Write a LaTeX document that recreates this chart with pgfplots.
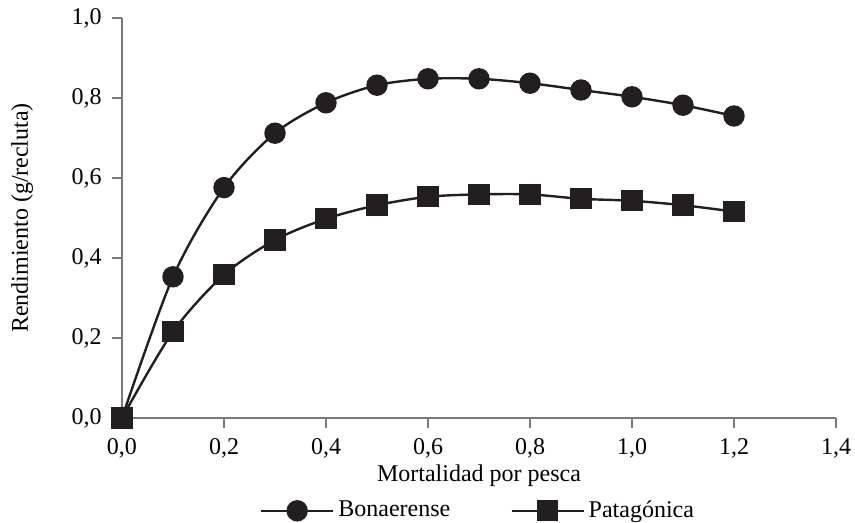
\documentclass[border=0pt]{standalone}
\usepackage{fontspec}
\setmainfont{Liberation Serif}
\usepackage{pgfplots}
\pgfplotsset{compat=1.18}
\definecolor{ink}{HTML}{231F20}
\definecolor{axgray}{HTML}{7A7A7A}
\begin{document}
\fontsize{12}{14}\selectfont
\begin{tikzpicture}[x=1pt,y=1pt]
\begin{axis}[
  scale only axis,
  width=357pt, height=200pt,
  xmin=0, xmax=1.4, ymin=0, ymax=1.0,
  axis x line*=bottom, axis y line*=left,
  axis line style={axgray, line width=0.6pt, -},
  xtick={0,0.2,...,1.4}, ytick={0,0.2,...,1.0},
  tick style={axgray, line width=0.6pt},
  tick align=outside, major tick length=5pt,
  /pgf/number format/use comma,
  /pgf/number format/fixed,
  /pgf/number format/fixed zerofill,
  /pgf/number format/precision=1,
  /pgf/number format/assume math mode=true,
  xticklabel style={yshift=-1pt, font=\fontsize{12}{14}\selectfont},
  yticklabel style={xshift=-1pt, font=\fontsize{12}{14}\selectfont},
  clip=false,
  xlabel={Mortalidad por pesca},
  ylabel={Rendimiento (g/recluta)},
  x label style={at={(axis description cs:0.5,-0.1575)}, anchor=base, font=\fontsize{12}{14}\selectfont},
  y label style={at={(axis description cs:-0.140,0.5)}, anchor=center, font=\fontsize{12}{14}\selectfont},
  legend columns=2,
  legend style={at={(axis description cs:0.5,-0.232)}, anchor=center, draw=none, fill=none,
    font=\fontsize{12}{14}\selectfont,
    /tikz/every even column/.append style={column sep=28pt}},
  legend cell align=left,
  legend image code/.code={\draw[#1, mark repeat=2, mark phase=2] plot coordinates {(0pt,0pt) (18pt,0pt) (36pt,0pt)};},
]
\addplot[ink, line width=1.2pt, smooth, tension=0.5, mark=*, mark size=4.75pt, mark options={fill=ink, draw=ink}]
coordinates {
(0.0,0.0) (0.1,0.353) (0.2,0.576) (0.3,0.712) (0.4,0.788) (0.5,0.832) (0.6,0.848)
(0.7,0.848) (0.8,0.837) (0.9,0.820) (1.0,0.803) (1.1,0.782) (1.2,0.755)};
\addlegendentry{Bonaerense}
\addplot[ink, line width=1.2pt, smooth, tension=0.5, mark=square*, mark size=4.75pt, mark options={fill=ink, draw=ink}]
coordinates {
(0.0,0.0) (0.1,0.216) (0.2,0.358) (0.3,0.445) (0.4,0.498) (0.5,0.532) (0.6,0.553)
(0.7,0.559) (0.8,0.559) (0.9,0.548) (1.0,0.543) (1.1,0.532) (1.2,0.516)};
\addlegendentry{Patagónica}
\coordinate (bl) at (axis description cs:-0.17087,-0.2625);
\coordinate (tr) at (axis description cs:1.02661,1.045);
\end{axis}
\pgfresetboundingbox
\path[use as bounding box] (bl) rectangle (tr);
\end{tikzpicture}
\end{document}
